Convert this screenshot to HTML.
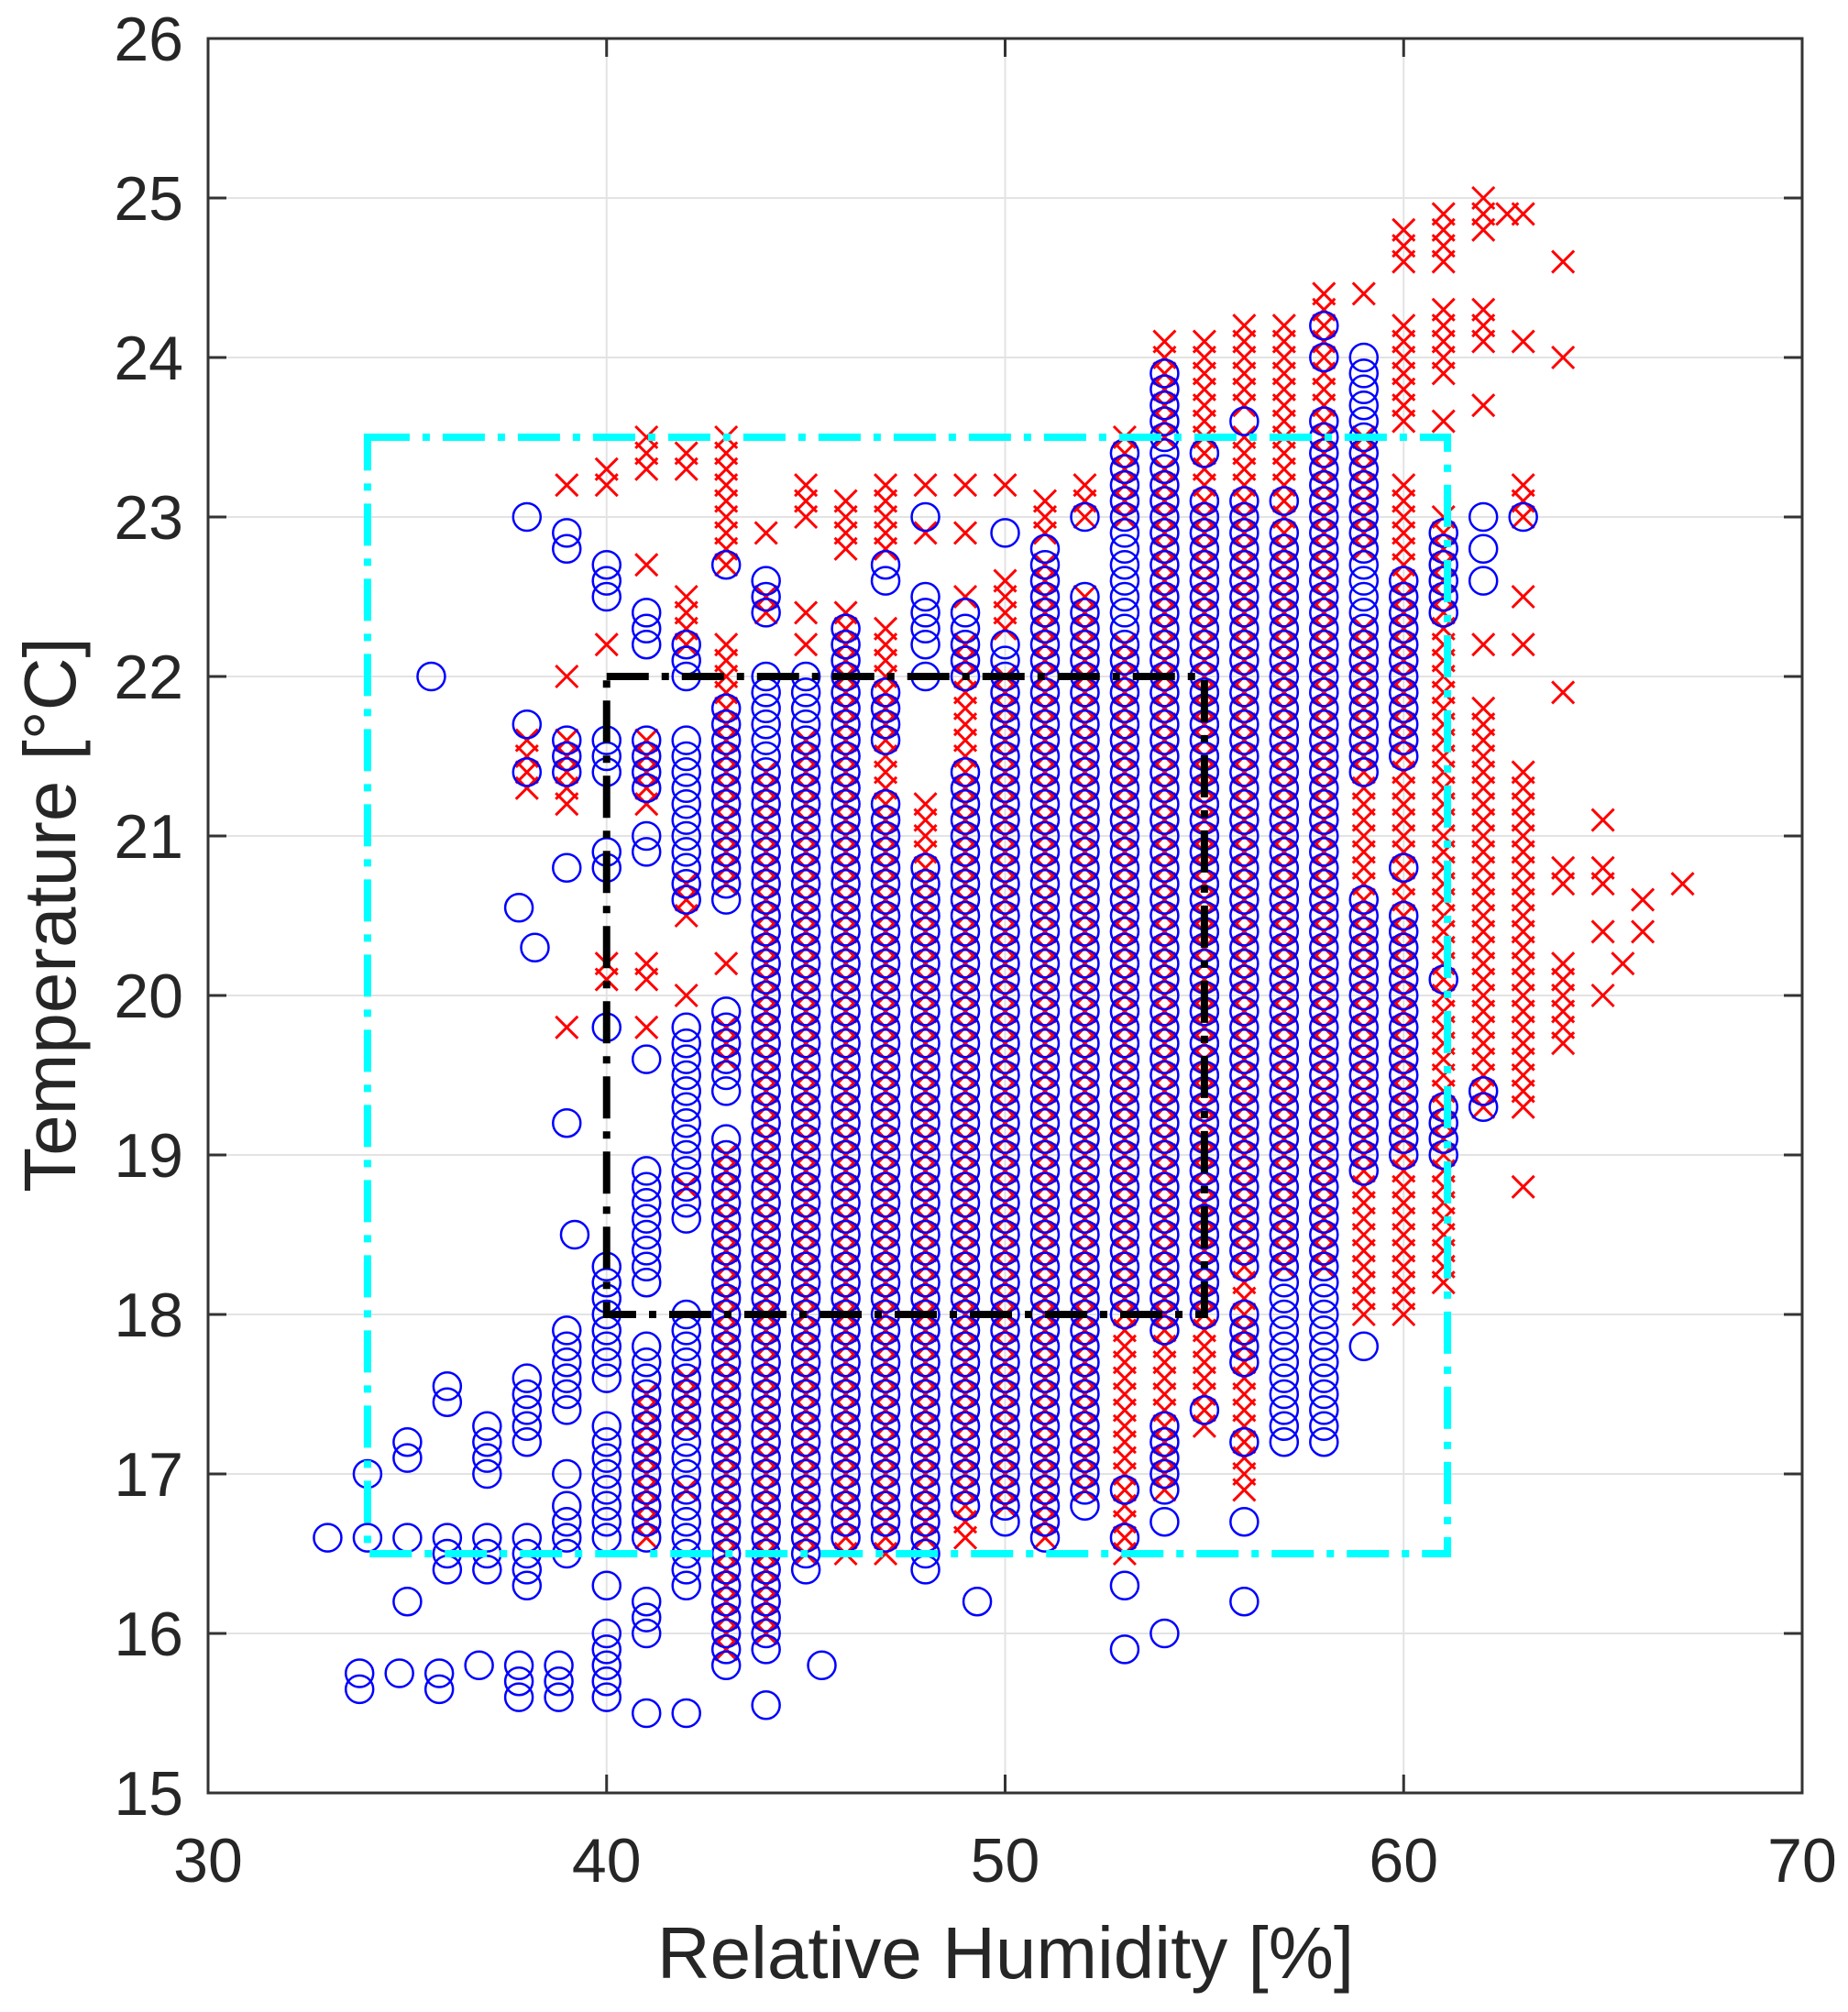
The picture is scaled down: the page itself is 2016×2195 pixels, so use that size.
<!DOCTYPE html>
<html><head><meta charset="utf-8"><style>
html,body{margin:0;padding:0;background:#fff;}
svg{display:block;}
text{font-family:"Liberation Sans",Arial,sans-serif;fill:#262626;}
</style></head><body>
<svg id="chart" width="2016" height="2195" viewBox="0 0 2016 2195" xmlns="http://www.w3.org/2000/svg">
<g id="grid"></g>
<g id="reds"></g>
<g id="blues"></g>
<g id="boxes"></g>
<g id="axes"></g>
<text x="1097" y="2158" font-size="80" text-anchor="middle">Relative Humidity [%]</text>
<text transform="translate(82,998) rotate(-90)" font-size="80" text-anchor="middle">Temperature [°C]</text>
</svg>
<script>
const xTicks=[30,40,50,60,70];
const yTicks=[15,16,17,18,19,20,21,22,23,24,25,26];
// [RH, Tlow, Thigh] ranges sampled every 0.1 °C
const blueRanges=[
[33,16.6,16.6],[34,17,17],[34,16.6,16.6],[33.8,15.65,15.65],[33.8,15.75,15.75],
[35,17.1,17.2],[35,16.6,16.6],[35,16.2,16.2],[34.8,15.75,15.75],[35.8,15.65,15.65],[35.8,15.75,15.75],[35.6,22,22],
[36,17.45,17.45],[36,17.55,17.55],[36,16.4,16.6],[36.8,15.8,15.8],
[37,17,17.3],[37,16.4,16.6],[37.8,15.6,15.8],
[38,23,23],[38,21.7,21.7],[38,21.4,21.4],[38,17.2,17.6],[38,16.3,16.6],[37.8,20.55,20.55],[38.2,20.3,20.3],[38.8,15.6,15.8],
[39,22.8,22.9],[39,21.4,21.6],[39,20.8,20.8],[39,19.2,19.2],[39.2,18.5,18.5],[39,17.4,17.9],[39,17,17],[39,16.5,16.8],
[40,22.5,22.7],[40,21.4,21.6],[40,20.8,20.9],[40,19.8,19.8],[40,17.6,18.3],[40,16.6,17.3],[40,16.3,16.3],[40,15.6,16],
[41,22.2,22.4],[41,21.3,21.6],[41,20.9,21],[41,19.6,19.6],[41,18.2,18.9],[41,16.6,17.8],[41,16,16.2],[41,15.5,15.5],
[42,22,22.2],[42,20.6,21.6],[42,18.6,19.8],[42,16.3,18],[42,15.5,15.5],
[43,22.7,22.7],[43,20.6,21.8],[43,19.4,19.9],[43,15.8,19.1],
[44,22.4,22.6],[44,15.9,22],[44,15.55,15.55],
[45,16.4,22],[45.4,15.8,15.8],
[46,16.6,22.3],
[47,22.6,22.7],[47,21.6,21.9],[47,16.6,21.2],
[48,23,23],[48,22.2,22.5],[48,22,22],[48,16.4,20.8],
[49,22,22.4],[49,16.8,21.4],[49.3,16.2,16.2],
[50,22.9,22.9],[50,16.7,22.2],
[51,16.6,22.8],
[52,23,23],[52,16.8,22.5],
[53,18,23.4],[53,16.9,16.9],[53,16.6,16.6],[53,16.3,16.3],[53,15.9,15.9],
[54,17.9,23.9],[54,16.9,17.3],[54,16.7,16.7],[54,16,16],
[55,23.4,23.4],[55,18,23.1],[55,17.4,17.4],
[56,23.6,23.6],[56,18.3,23.1],[56,17.7,18],[56,17.2,17.2],[56,16.7,16.7],[56,16.2,16.2],
[57,23.1,23.1],[57,17.2,22.9],
[58,24.2,24.2],[58,24,24],[58,17.2,23.6],
[59,21.4,24],[59,18.9,20.6],[59,17.8,17.8],
[60,21.5,22.6],[60,20.8,20.8],[60,19,20.5],
[61,22.4,22.9],[61,20.1,20.1],[61,19,19.3],
[62,23,23],[62,22.8,22.8],[62,22.6,22.6],[62,19.3,19.4],
[63,23,23]
];
const redRanges=[
[38,21.3,21.6],[39,23.2,23.2],[39,22,22],[39,21.2,21.6],[39,19.8,19.8],
[40,23.2,23.3],[40,22.2,22.2],[40,20.1,20.2],
[41,23.3,23.5],[41,22.7,22.7],[41,21.2,21.6],[41,20.1,20.2],[41,19.8,19.8],[41,16.6,17.5],
[42,23.3,23.4],[42,22.2,22.5],[42,20.5,20.7],[42,20,20],[42,18.8,18.8],[42,17.3,17.6],[42,16.9,16.9],
[43,22.7,23.5],[43,20.7,22.2],[43,20.2,20.2],[43,19.6,19.8],[43,15.9,19],
[44,22.9,22.9],[44,22.4,22.5],[44,16,21.4],
[45,23,23.2],[45,22.4,22.4],[45,22.2,22.2],[45,16.5,21.6],
[46,22.8,23.1],[46,16.5,22.4],
[47,22.8,23.2],[47,16.5,22.3],
[48,23.2,23.2],[48,22.9,22.9],[48,16.6,21.2],
[49,23.2,23.2],[49,22.9,22.9],[49,22.5,22.5],[49,16.6,22.2],
[50,23.2,23.2],[50,22.3,22.6],[50,16.8,22],
[51,22.9,23.1],[51,16.6,22.7],
[52,23,23.2],[52,16.9,22.5],
[53,23,23.5],[53,16.5,22.2],
[54,23.5,24.1],[54,16.9,23.3],
[55,17.3,24.1],
[56,23.7,24.2],[56,16.9,23.5],
[57,18.3,24.2],
[58,18.3,24.4],
[59,24.4,24.4],[59,22.8,23.5],[59,18,22.3],
[60,24.6,24.8],[60,23.6,24.2],[60,18,23.2],
[61,24.6,24.9],[61,23.9,24.3],[61,23.6,23.6],[61,18.2,23],
[62,24.8,25],[62,24.1,24.3],[62,23.7,23.7],[62,22.2,22.2],[62,19.3,21.8],
[62.6,24.9,24.9],[63,24.9,24.9],[63,24.1,24.1],[63,23,23.2],[63,22.5,22.5],[63,22.2,22.2],[63,19.3,21.4],[63,18.8,18.8],
[64,24.6,24.6],[64,24,24],[64,21.9,21.9],[64,20.7,20.8],[64,19.7,20.2],
[65,21.1,21.1],[65,20.7,20.8],[65,20.4,20.4],[65,20,20],[65.5,20.2,20.2],[66,20.4,20.4],[66,20.6,20.6],[67,20.7,20.7]
];
const cyanBox=[34,61.1,16.5,23.5];
const blackBox=[40,55,18,22];

const L=227,R=1966,T=42,B=1956;
const X=v=>L+(v-30)/(70-30)*(R-L);
const Y=v=>B-(v-15)/(26-15)*(B-T);
const NS="http://www.w3.org/2000/svg";
function mk(tag,attrs,parent){const e=document.createElementNS(NS,tag);for(const k in attrs)e.setAttribute(k,attrs[k]);parent.appendChild(e);return e;}
const grid=document.getElementById('grid'),axes=document.getElementById('axes');
xTicks.forEach(t=>{
 const l=mk('line',{x1:X(t),x2:X(t),y1:T,y2:B,stroke:'#e3e3e3','stroke-width':2},grid);
 
 
 mk('line',{x1:X(t),x2:X(t),y1:B,y2:B-20,stroke:'#333','stroke-width':3},axes);
 mk('line',{x1:X(t),x2:X(t),y1:T,y2:T+20,stroke:'#333','stroke-width':3},axes);
 const tx=mk('text',{x:X(t),y:2053,'font-size':68,'text-anchor':'middle'},axes);
 tx.textContent=t;
 
 
});
yTicks.forEach(t=>{
 const l=mk('line',{x1:L,x2:R,y1:Y(t),y2:Y(t),stroke:'#e3e3e3','stroke-width':2},grid);
 
 
 mk('line',{x1:L,x2:L+20,y1:Y(t),y2:Y(t),stroke:'#333','stroke-width':3},axes);
 mk('line',{x1:R,x2:R-20,y1:Y(t),y2:Y(t),stroke:'#333','stroke-width':3},axes);
 const tx=mk('text',{x:200,y:Y(t)+24,'font-size':68,'text-anchor':'end'},axes);
 tx.textContent=t;
 
 
});
const frame=mk('rect',{x:L,y:T,width:R-L,height:B-T,fill:'none',stroke:'#333','stroke-width':3},axes);



function expand(r){const out=[];const a=Math.round(r[1]*100),b=Math.round(r[2]*100);for(let k=a;k<=b;k+=10)out.push([r[0],k/100]);return out;}
const reds=document.getElementById('reds'),blues=document.getElementById('blues');
redRanges.forEach(r=>expand(r).forEach(p=>{
 const cx=X(p[0]),cy=Y(p[1]),s=12;
 const p1=mk('path',{d:`M${cx-s},${cy-s}L${cx+s},${cy+s}M${cx-s},${cy+s}L${cx+s},${cy-s}`,stroke:'#ff0000','stroke-width':3,fill:'none'},reds);
 
 
}));
blueRanges.forEach(r=>expand(r).forEach(p=>{
 const c=mk('ellipse',{cx:X(p[0]),cy:Y(p[1]),rx:15,ry:15,stroke:'#0000ff','stroke-width':2.5,fill:'none'},blues);
 
 
}));
const boxes=document.getElementById('boxes');
const cb=mk('rect',{x:X(cyanBox[0]),y:Y(cyanBox[3]),width:X(cyanBox[1])-X(cyanBox[0]),height:Y(cyanBox[2])-Y(cyanBox[3]),fill:'none',stroke:'#00ffff','stroke-width':8,'stroke-dasharray':'46 14 8 14'},boxes);


const bb=mk('rect',{x:X(blackBox[0]),y:Y(blackBox[3]),width:X(blackBox[1])-X(blackBox[0]),height:Y(blackBox[2])-Y(blackBox[3]),fill:'none',stroke:'#000','stroke-width':8,'stroke-dasharray':'46 14 8 14'},boxes);


</script>
</body></html>
